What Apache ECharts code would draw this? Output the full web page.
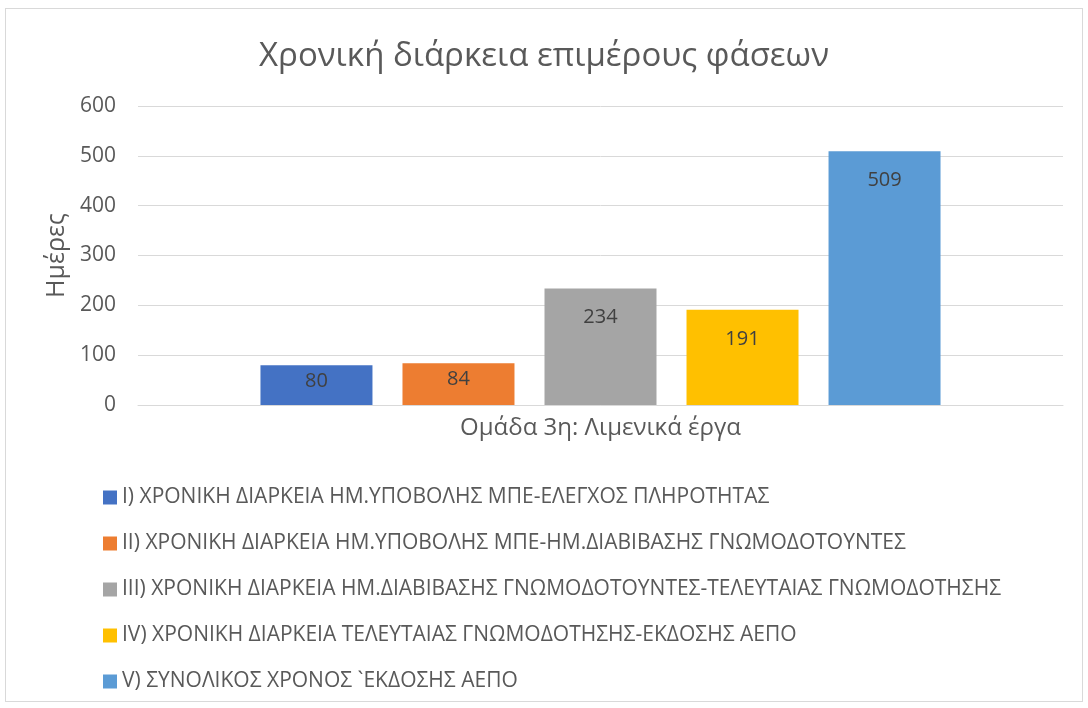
<!DOCTYPE html>
<html><head><meta charset="utf-8">
<script src="https://cdn.jsdelivr.net/npm/echarts@6/dist/echarts.min.js"></script>
<style>
html,body{margin:0;padding:0;background:#fff;}
#frame{position:absolute;left:5px;top:8px;width:1078px;height:694px;border:1px solid #d9d9d9;box-sizing:border-box;}
#c{position:absolute;left:0;top:0;width:1088px;height:708px;}
</style></head>
<body><div id="frame"></div><div id="c"></div>
<script>
const categories = ['Ομάδα 3η: Λιμενικά έργα'];
const seriesNames = [
  'I) ΧΡΟΝΙΚΗ ΔΙΑΡΚΕΙΑ ΗΜ.ΥΠΟΒΟΛΗΣ ΜΠΕ-ΕΛΕΓΧΟΣ ΠΛΗΡΟΤΗΤΑΣ',
  'II) ΧΡΟΝΙΚΗ ΔΙΑΡΚΕΙΑ ΗΜ.ΥΠΟΒΟΛΗΣ ΜΠΕ-ΗΜ.ΔΙΑΒΙΒΑΣΗΣ ΓΝΩΜΟΔΟΤΟΥΝΤΕΣ',
  'III) ΧΡΟΝΙΚΗ ΔΙΑΡΚΕΙΑ ΗΜ.ΔΙΑΒΙΒΑΣΗΣ ΓΝΩΜΟΔΟΤΟΥΝΤΕΣ-ΤΕΛΕΥΤΑΙΑΣ ΓΝΩΜΟΔΟΤΗΣΗΣ',
  'IV) ΧΡΟΝΙΚΗ ΔΙΑΡΚΕΙΑ ΤΕΛΕΥΤΑΙΑΣ ΓΝΩΜΟΔΟΤΗΣΗΣ-ΕΚΔΟΣΗΣ ΑΕΠΟ',
  'V) ΣΥΝΟΛΙΚΟΣ ΧΡΟΝΟΣ `ΕΚΔΟΣΗΣ ΑΕΠΟ'
];
const s1 = [80];
const s2 = [84];
const s3 = [234];
const s4 = [191];
const s5 = [509];
const values = [s1, s2, s3, s4, s5];
const colors = ['#4472C4', '#ED7D31', '#A5A5A5', '#FFC000', '#5B9BD5'];
const title = 'Χρονική διάρκεια επιμέρους φάσεων';
const yName = 'Ημέρες';

const FONT = 'Open Sans';
const chart = echarts.init(document.getElementById('c'));
chart.setOption({
  animation: false,
  textStyle: {fontFamily: FONT},
  title: {text: title, left: 'center', top: 35,
    textStyle: {fontFamily: FONT, fontSize: 33, fontWeight: 'normal', color: '#595959'}},
  grid: {left: 138, right: 25, top: 106, bottom: 303},
  legend: {
    orient: 'vertical', left: 98, top: 482, itemGap: 25, itemWidth: 14, itemHeight: 14,
    icon: 'rect', textStyle: {fontFamily: FONT, fontSize: 21, color: '#595959'},
    data: seriesNames
  },
  xAxis: {type: 'category', data: categories,
    axisLine: {lineStyle: {color: '#d9d9d9', width: 1}}, axisTick: {show: false},
    axisLabel: {fontFamily: FONT, fontSize: 24, color: '#595959', margin: 11}},
  yAxis: {type: 'value', min: 0, max: 600, interval: 100,
    name: yName, nameLocation: 'middle', nameGap: 67, nameRotate: 90,
    nameTextStyle: {fontFamily: FONT, fontSize: 25, color: '#595959'},
    axisLine: {show: false}, axisTick: {show: false},
    axisLabel: {fontFamily: FONT, fontSize: 21, color: '#595959', margin: 22},
    splitLine: {lineStyle: {color: '#d9d9d9', width: 1}}},
  series: seriesNames.map((n, i) => ({
    name: n, type: 'bar', data: values[i], barWidth: 112, barGap: '26.8%',
    itemStyle: {color: colors[i]},
    label: {show: true, position: 'insideTop', distance: i < 2 ? 6 : 19,
      fontFamily: FONT, fontSize: 20, color: '#404040'}
  }))
});
</script></body></html>
